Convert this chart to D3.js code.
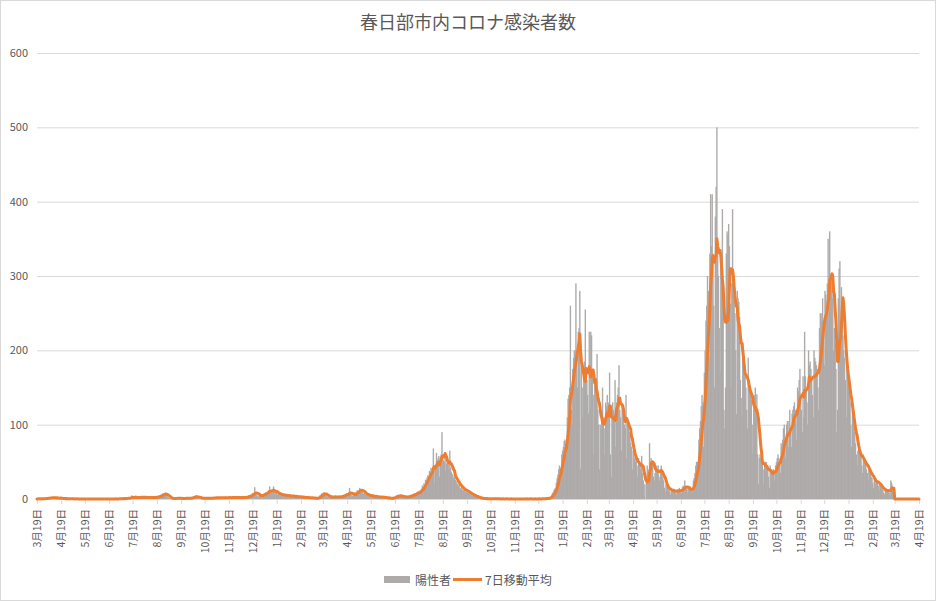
<!DOCTYPE html>
<html lang="ja">
<head>
<meta charset="UTF-8">
<title>春日部市内コロナ感染者数</title>
<script src="https://cdn.jsdelivr.net/npm/d3@7"></script>
<style>
    body { margin: 0; background: #fff; }
    svg text { font-family: "Noto Sans CJK JP", "Noto Sans", sans-serif; }
</style>
</head>
<body>
<svg width="936" height="601"></svg>
<script>
    var title = "春日部市内コロナ感染者数";
    var seriesNames = ["陽性者", "7日移動平均"];
    var axisStart = "2020-03-19";
    var axisEnd = "2023-04-19";
    var yTicks = [0, 100, 200, 300, 400, 500, 600];

    // daily positives, one row per month (first row of 2020 starts on 3/19)
    var cases2020 = [
        [0,0,1,0,0,0,1,0,0,1,0,1,1],
        [1,2,1,0,2,3,1,2,2,1, 0,3,1,2,1,0,1,2,0,1, 1,0,0,1,0,1,0,0,1,0],
        [0,0,1,0,0,0,0,1,0,0, 0,0,0,0,1,0,0,0,0,0, 0,0,0,1,0,0,0,0,0,0, 0],
        [0,0,0,0,1,0,0,0,0,0, 0,0,0,1,0,0,0,0,0,0, 0,1,0,0,0,0,0,1,0,0],
        [0,1,0,0,1,0,1,1,0,2, 1,0,1,2,1,1,3,5,2,1, 2,2,3,1,2,3,2,1,3,2, 3],
        [2,3,2,1,2,3,2,2,1,3, 2,2,3,2,1,2,3,2,3,4, 3,2,5,6,4,7,8,6,5,9, 6],
        [4,3,2,1,1,0,1,1,0,1, 1,0,1,2,1,0,1,1,0,1, 1,0,1,1,2,1,0,1,1,0],
        [1,2,3,2,4,3,2,5,3,2, 1,2,1,1,2,1,0,1,2,1, 1,2,1,0,1,2,1,1,2,1, 2],
        [1,2,2,1,1,2,3,1,2,2, 1,1,2,3,2,1,2,1,2,2, 3,1,2,2,1,2,3,2,1,2],
        [2,1,2,3,2,2,1,3,2,2, 3,4,2,3,5,4,6,5,8,7, 6,16,8,6,5,4,3,5,4,6, 5]
    ];
    var cases2021 = [
        [6,5,7,8,9,7,10,9,12,17, 10,8,12,9,17,8,9,7,10,6, 6,8,7,5,6,5,4,6,6,5, 4],
        [5,3,4,5,4,3,4,5,3,4, 3,2,4,3,4,2,3,3,2,3, 2,2,3,1,2,2,1,2],
        [2,1,2,1,2,1,1,2,1,0, 1,2,1,3,5,4,7,8,6,9, 7,5,6,4,3,2,3,2,4,3, 2],
        [3,2,4,3,2,3,2,4,3,3, 2,4,5,4,6,5,7,6,8,7, 6,15,8,6,5,4,5,6,7,9],
        [10,12,9,11,15,12,13,10,8,7, 9,6,5,6,4,5,6,4,3,5, 4,3,4,3,2,4,3,2,3,2, 3],
        [3,2,2,3,1,2,2,1,2,1, 1,2,0,1,1,2,1,2,3,4, 5,3,6,4,3,5,4,3,2,3],
        [3,2,4,3,2,3,4,5,3,6, 5,4,7,8,6,7,9,10,8,11, 9,12,14,18,16,21,19,26,25,29, 32],
        [30,38,36,42,35,40,68,45,22,44, 62,50,55,58,30,56,60,90,58,52, 50,62,38,48,52,46,40,65,42,36, 34],
        [32,28,30,26,22,24,20,18,21,15, 14,16,12,13,11,14,9,10,12,8, 9,7,6,8,5,4,6,3,4,3],
        [3,2,2,1,2,1,1,0,1,1, 0,1,0,0,1,0,0,1,0,0, 0,1,0,0,1,0,0,0,1,0, 0],
        [0,0,1,0,0,0,0,1,0,0, 0,0,0,1,0,0,0,0,0,0, 1,0,0,0,0,0,0,1,0,0],
        [0,0,0,1,0,0,0,0,1,0, 0,0,0,0,1,0,0,0,0,1, 0,0,0,1,0,0,1,0,1,1, 2]
    ];
    var cases2022 = [
        [1,2,1,3,5,8,9,12,14,10, 22,28,33,40,45,42,30,60,65,70, 78,80,75,60,110,135,140,150,260,120, 100],
        [175,190,200,200,290,180,150,225,230,280, 40,190,150,110,175,185,255,165,160,140, 115,225,120,225,220,170,140,60],
        [160,150,140,195,120,100,40,100,95,115, 150,110,95,60,130,125,140,120,130,170, 60,30,125,130,120,115,160,70,130,140, 150],
        [180,120,110,65,125,120,115,100,95,140, 55,110,100,90,85,75,70,40,65,60, 55,50,55,45,30,55,50,45,40,58],
        [35,25,5,20,0,30,45,40,35,75, 50,55,45,50,30,25,35,40,45,40, 45,30,25,40,45,35,30,25,15,10, 20],
        [18,15,12,14,10,6,12,13,11,14, 10,9,6,12,13,11,15,12,10,8, 16,18,15,25,17,14,9,15,14,13],
        [14,13,12,10,25,28,35,45,50,50, 35,80,95,105,125,140,130,70,170,200, 240,260,300,280,190,330,410,340,410,330, 260],
        [150,380,420,500,340,300,230,170,330,310, 390,270,120,95,150,330,360,355,370,340, 263,150,290,390,300,269,250,200,114,280, 270],
        [265,245,160,136,110,210,200,185,180,150, 120,95,190,160,150,145,134,100,60,140, 139,150,110,141,60,20,55,60,55,50],
        [55,40,20,50,45,50,45,40,30,15, 45,40,38,35,40,35,25,45,50,55, 60,55,45,35,75,70,80,95,100,75, 55],
        [100,105,70,105,120,95,70,115,120,125, 130,120,110,80,150,145,160,175,140,120, 90,165,110,225,165,150,130,100,200,180],
        [185,175,160,140,110,200,190,185,180,175, 150,120,230,250,240,250,270,230,180,280, 275,260,290,350,250,360,290,300,280,270, 200]
    ];
    var cases2023 = [
        [230,210,175,90,120,270,310,320,240,285, 250,220,200,190,160,110,180,165,155,145, 130,100,70,120,110,100,90,75,60,45, 65],
        [70,65,60,55,45,35,60,55,50,48, 40,35,25,45,40,35,30,28,22,15, 30,28,20,25,22,18,12,22],
        [18,16,14,12,8,6,15,14,12,13, 10,8,5,25,22,18,14,10]
    ];

    var colors = {bar: "#aeaaaa", line: "#ed7d31", grid: "#d9d9d9", text: "#595959"};

    var daily = [];
    function addYear(rows, year, firstMonth, firstDay) {
        rows.forEach(function (row, k) {
            var m = firstMonth + k;
            var start = k === 0 ? firstDay : 1;
            var last = new Date(Date.UTC(year, m + 1, 0)).getUTCDate();
            row.forEach(function (v, i) {
                if (start + i <= last) {
                    daily.push({date: new Date(Date.UTC(year, m, start + i)), value: v});
                }
            });
        });
    }
    addYear(cases2020, 2020, 2, 19);
    addYear(cases2021, 2021, 0, 1);
    addYear(cases2022, 2022, 0, 1);
    addYear(cases2023, 2023, 0, 1);

    // 7-day trailing mean; the sheet shows 0 after the last reported day
    var avg = daily.map(function (d, i) {
        var w = daily.slice(Math.max(0, i - 6), i + 1);
        return {date: d.date, value: d3.mean(w, function (e) { return e.value; })};
    });
    var parse = d3.utcParse("%Y-%m-%d");
    var t0 = parse(axisStart), t1 = parse(axisEnd);
    var lastDay = daily[daily.length - 1].date;
    avg.push({date: d3.utcDay.offset(lastDay, 1), value: 0});
    avg.push({date: t1, value: 0});

    var svg = d3.select("svg");
    var width = +svg.attr("width");
    var height = +svg.attr("height");
    var plot = {left: 37, right: 919, top: 53, bottom: 499};

    svg.append("rect")
        .attr("x", 0.5).attr("y", 0.5)
        .attr("width", width - 1).attr("height", height - 1)
        .attr("fill", "#fff").attr("stroke", colors.grid);

    var x = d3.scaleUtc().domain([t0, t1]).range([plot.left, plot.right]);
    var y = d3.scaleLinear().domain([0, 600]).range([plot.bottom, plot.top]);

    // y grid + labels
    var gy = svg.append("g")
        .attr("transform", "translate(" + plot.left + ",0)")
        .call(d3.axisLeft(y).tickValues(yTicks).tickSize(-(plot.right - plot.left)).tickPadding(9));
    gy.select(".domain").remove();
    gy.selectAll(".tick line").attr("stroke", colors.grid);
    gy.selectAll(".tick text")
        .attr("fill", colors.text)
        .attr("font-size", 11)
        .attr("font-family", "'Noto Sans', sans-serif");

    // bars (a little wider than one day so the mass reads solid)
    var step = x(d3.utcDay.offset(t0, 1)) - x(t0);
    svg.append("g").selectAll("rect")
        .data(daily.filter(function (d) { return d.value > 0; }))
        .enter()
        .append("rect")
        .attr("x", function (d) { return x(d.date) - step / 2 - 0.3; })
        .attr("y", function (d) { return y(d.value); })
        .attr("width", step + 0.6)
        .attr("height", function (d) { return y(0) - y(d.value); })
        .attr("fill", colors.bar);

    // x axis
    var monthTicks = d3.utcMonth.range(d3.utcMonth.floor(t0), d3.utcMonth.offset(d3.utcMonth.floor(t1), 1))
        .map(function (m) { return d3.utcDay.offset(m, 18); });
    var gx = svg.append("g")
        .attr("transform", "translate(0," + y(0) + ")")
        .call(d3.axisBottom(x).tickValues(monthTicks)
            .tickFormat(d3.utcFormat("%-m月%-d日")).tickSize(5).tickSizeOuter(0));
    gx.select(".domain").attr("stroke", colors.grid);
    gx.selectAll(".tick line").attr("stroke", colors.grid);
    gx.selectAll(".tick text")
        .attr("transform", "rotate(-90)")
        .attr("text-anchor", "end")
        .attr("x", -10)
        .attr("y", 0)
        .attr("dy", "0.35em")
        .attr("fill", colors.text)
        .attr("font-size", 10.5)
        .attr("font-family", "'Noto Sans CJK JP', sans-serif");

    // moving average
    var line = d3.line()
        .x(function (d) { return x(d.date); })
        .y(function (d) { return y(d.value); });
    svg.append("path")
        .datum(avg)
        .attr("d", line)
        .attr("fill", "none")
        .attr("stroke", colors.line)
        .attr("stroke-width", 3)
        .attr("stroke-linejoin", "round")
        .attr("stroke-linecap", "round");

    // title
    svg.append("text")
        .attr("x", width / 2)
        .attr("y", 21)
        .attr("text-anchor", "middle")
        .attr("dominant-baseline", "central")
        .attr("font-size", 18)
        .attr("fill", colors.text)
        .text(title);

    // legend
    var lg = svg.append("g").attr("transform", "translate(0,579.5)");
    lg.append("rect").attr("x", 384).attr("y", -3.5).attr("width", 26).attr("height", 7).attr("fill", colors.bar);
    lg.append("text").attr("x", 415).attr("y", 0).attr("dominant-baseline", "central")
        .attr("font-size", 12).attr("fill", colors.text).text(seriesNames[0]);
    lg.append("line").attr("x1", 453).attr("x2", 482).attr("y1", 0).attr("y2", 0)
        .attr("stroke", colors.line).attr("stroke-width", 3);
    lg.append("text").attr("x", 485).attr("y", 0).attr("dominant-baseline", "central")
        .attr("font-size", 12).attr("fill", colors.text).text(seriesNames[1]);
</script>
</body>
</html>
